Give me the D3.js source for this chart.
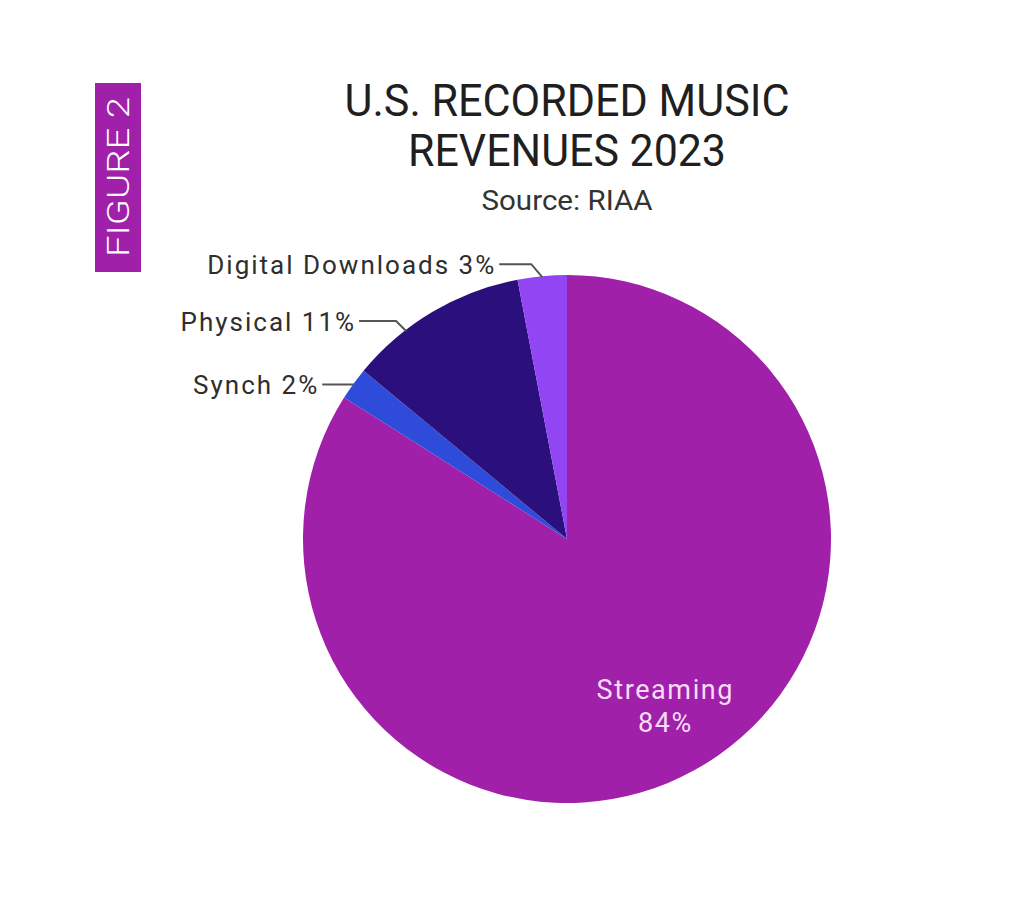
<!DOCTYPE html>
<html>
<head>
<meta charset="utf-8">
<script src="https://cdn.jsdelivr.net/npm/d3@7"></script>
<style>
  html, body { margin: 0; padding: 0; background: #fff; }
  svg { display: block; }
</style>
</head>
<body>
<svg id="chart"></svg>
<script>
// data
const categories = ["Streaming", "Synch", "Physical", "Digital Downloads"];
const shares = [84, 2, 11, 3];
const sliceColors = ["#a120a9", "#2f4bd9", "#2b0f7c", "#9245f2"];

const width = 1024;
const height = 898;
const cx = 567, cy = 539, radius = 264;

const svg = d3.select("#chart")
  .attr("width", width)
  .attr("height", height);

// figure tag on the left
svg.append("rect")
  .attr("x", 95).attr("y", 83)
  .attr("width", 46).attr("height", 189)
  .attr("fill", "#a120a9");

svg.append("text")
  .attr("transform", "translate(129,177) rotate(-90)")
  .attr("text-anchor", "middle")
  .attr("font-family", "Roboto, sans-serif")
  .attr("font-weight", 300)
  .attr("font-size", 31)
  .attr("fill", "#fff")
  .attr("textLength", 160)
  .attr("lengthAdjust", "spacingAndGlyphs")
  .text("FIGURE 2");

// titles
const titleLines = ["U.S. RECORDED MUSIC", "REVENUES 2023"];
const titleWidths = [445, 318];
titleLines.forEach((t, i) => {
  svg.append("text")
    .attr("x", 567).attr("y", 116 + i * 50)
    .attr("text-anchor", "middle")
    .attr("font-family", "Roboto, sans-serif")
    .attr("font-size", 44)
    .attr("fill", "#1f1f1f")
    .attr("textLength", titleWidths[i])
    .attr("lengthAdjust", "spacingAndGlyphs")
    .text(t);
});

svg.append("text")
  .attr("x", 567).attr("y", 210)
  .attr("text-anchor", "middle")
  .attr("font-family", "Roboto, sans-serif")
  .attr("font-size", 28)
  .attr("fill", "#333")
  .attr("textLength", 171)
  .attr("lengthAdjust", "spacingAndGlyphs")
  .text("Source: RIAA");

// pie
const data = categories.map((c, i) => ({ name: c, value: shares[i], color: sliceColors[i] }));

const pie = d3.pie()
  .value(d => d.value)
  .sort(null);

const arcs = pie(data);

const arc = d3.arc()
  .innerRadius(0)
  .outerRadius(radius);

const g = svg.append("g")
  .attr("transform", "translate(" + cx + "," + cy + ")");

g.selectAll("path.slice")
  .data(arcs)
  .join("path")
  .attr("class", "slice")
  .attr("d", arc)
  .attr("fill", d => d.data.color);

// streaming label inside the slice
const inner = d3.arc().innerRadius(200).outerRadius(200);
const sc = inner.centroid(arcs[0]);
["Streaming", shares[0] + "%"].forEach((t, i) => {
  g.append("text")
    .attr("x", sc[0] + 2)
    .attr("y", sc[1] - 15 + i * 33)
    .attr("text-anchor", "middle")
    .attr("font-family", "Roboto, sans-serif")
    .attr("font-size", 27)
    .attr("letter-spacing", 1.6)
    .attr("fill", "#f6dcf6")
    .text(t);
});

// outside labels with leader lines
// at = fraction along the slice where the line meets the edge
// elbow = offset of the bend from the edge point, run = horizontal run
const leaders = [
  { i: 3, at: 0.5, elbow: [-11, -13], run: 32 },
  { i: 2, at: 0.32, elbow: [-10, -10], run: 37 },
  { i: 1, at: 0.5, elbow: [0, 0], run: 32 }
];

leaders.forEach(l => {
  const a = arcs[l.i];
  const ang = a.startAngle + (a.endAngle - a.startAngle) * l.at;
  const px = Math.sin(ang) * (radius - 1);
  const py = -Math.cos(ang) * (radius - 1);
  const ex = px + l.elbow[0], ey = py + l.elbow[1];
  const hx = ex - l.run;

  g.append("path")
    .attr("d", d3.line()([[px, py], [ex, ey], [hx, ey]]))
    .attr("fill", "none")
    .attr("stroke", "#555")
    .attr("stroke-width", 2);

  g.append("text")
    .attr("x", hx - 3)
    .attr("y", ey + 10)
    .attr("text-anchor", "end")
    .attr("font-family", "Roboto, sans-serif")
    .attr("font-size", 26)
    .attr("letter-spacing", 2)
    .attr("fill", "#2e2e2e")
    .text(a.data.name + " " + a.data.value + "%");
});
</script>
</body>
</html>
